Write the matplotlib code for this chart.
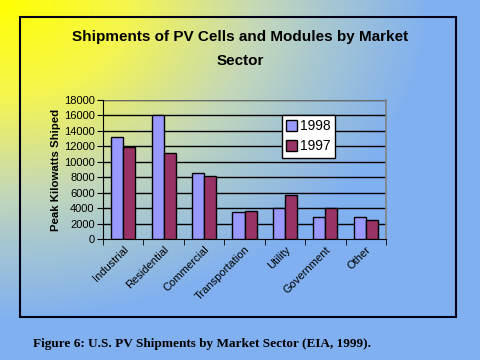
import matplotlib
matplotlib.use("Agg")
import matplotlib.pyplot as plt
import numpy as np
from matplotlib.patches import Rectangle

sectors = ["Industrial", "Residential", "Commercial", "Transportation",
           "Utility", "Government", "Other"]
ship_1998 = [13200, 16000, 8600, 3500, 4000, 2800, 2800]
ship_1997 = [11900, 11100, 8100, 3600, 5700, 4000, 2450]
yticks = [0, 2000, 4000, 6000, 8000, 10000, 12000, 14000, 16000, 18000]

def background(w, h):
    # yellow in the top left corner fading out to blue
    x = np.arange(w)[None, :] / 430.0
    y = np.arange(h)[:, None] / 320.0
    t = np.clip(np.sqrt(x**2 + y**2), 0, 1)
    stops = [0, 0.3, 0.6, 0.75, 1.0]
    cols = np.array([[255, 255, 0], [245, 245, 80], [196, 216, 184],
                     [168, 200, 208], [128, 176, 240]]) / 255.0
    img = np.stack([np.interp(t, stops, cols[:, i]) for i in range(3)], axis=-1)
    return img

plt.close("all")
fig = plt.figure(figsize=(4.8, 3.6), dpi=100)

bg = fig.add_axes([0, 0, 1, 1], zorder=-10)
bg.imshow(background(480, 360), aspect="auto")
bg.axis("off")

# slide frame
fig.patches.append(Rectangle((20/480, 1-317/360), 436/480, 300/360, fill=False,
                             lw=1.5, edgecolor="#000018", transform=fig.transFigure))

ax = fig.add_axes([103/480, 1-239/360, 283/480, 139/360])
ax.patch.set_alpha(0)
x = np.arange(len(sectors))
w = 0.3
ax.bar(x - w/2, ship_1998, w, color="#9999FF", edgecolor="black", lw=1, label="1998", zorder=3)
ax.bar(x + w/2, ship_1997, w, color="#993366", edgecolor="black", lw=1, label="1997", zorder=3)

ax.set_xlim(-0.5, len(sectors) - 0.5)
ax.set_ylim(0, 18000)
ax.set_yticks(yticks)
ax.set_yticklabels([str(v) for v in yticks], fontsize=8, family="Liberation Sans")
for v in yticks[1:]:
    ax.axhline(v, color="black", lw=1, zorder=1)
ax.axhline(18000, color="#808080", lw=1.2, zorder=2)

ax.set_xticks(x)
ax.set_xticklabels(sectors, rotation=45, ha="right", va="top", rotation_mode="anchor",
                   fontsize=8, family="Liberation Sans")
ax.tick_params(axis="x", length=0, pad=4)
ax.set_xticks(np.arange(len(sectors) + 1) - 0.5, minor=True)
ax.tick_params(axis="x", which="minor", length=4, color="black", direction="out")
ax.tick_params(axis="y", length=4, color="black", direction="out", pad=2)

ax.spines["top"].set_visible(False)
ax.spines["right"].set_color("#808080")
ax.spines["right"].set_linewidth(1.2)
ax.spines["left"].set_color("black")
ax.spines["bottom"].set_color("black")

ax.set_ylabel("Peak Kilowatts Shiped", fontsize=8.2, fontweight="bold",
              family="Liberation Sans", labelpad=2)

leg = ax.legend(loc="upper left", bbox_to_anchor=(179/283, 1-15/139), fancybox=False,
                framealpha=1, edgecolor="black",
                prop={"family": "Liberation Sans", "size": 10},
                handlelength=0.8, handleheight=0.8, handletextpad=0.2,
                borderpad=0.3, labelspacing=0.45, borderaxespad=0)
leg.get_frame().set_linewidth(1)

fig.text(240/480, 1-37/360, "Shipments of PV Cells and Modules by Market",
         ha="center", va="center", fontsize=11, fontweight="bold",
         family="Liberation Sans")
fig.text(240/480, 1-61/360, "Sector", ha="center", va="center", fontsize=11,
         fontweight="bold", family="Liberation Sans")

fig.text(33/480, 1-344/360, "Figure 6: U.S. PV Shipments by Market Sector (EIA, 1999).",
         ha="left", va="center", fontsize=9.5, fontweight="bold", family="Liberation Serif")

fig.savefig("out.png", dpi=100)
